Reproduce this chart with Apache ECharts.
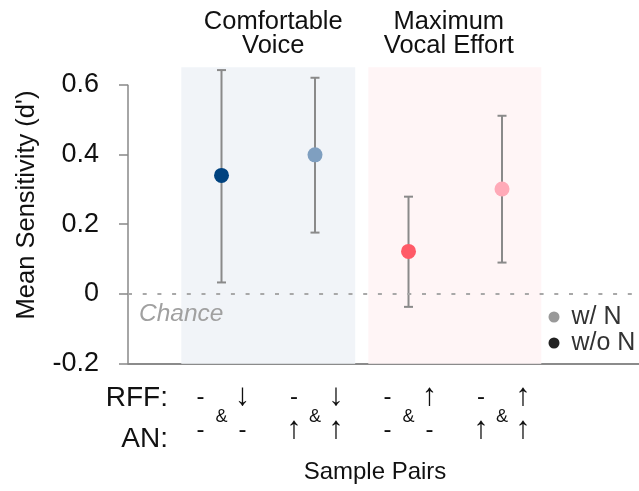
<!DOCTYPE html>
<html>
<head>
<meta charset="utf-8">
<script src="https://cdn.jsdelivr.net/npm/echarts@6/dist/echarts.min.js"></script>
<style>html,body{margin:0;padding:0;background:#fff}#c{width:639px;height:491px}</style>
</head>
<body>
<div id="c"></div>
<script>
// ---- data ----
const pairPos = [1, 2, 3, 4];
const rffLabels = [['-', '↓'], ['-', '↓'], ['-', '↑'], ['-', '↑']];
const anLabels = [['-', '-'], ['↑', '↑'], ['-', '-'], ['↑', '↑']];
const means = [0.340, 0.399, 0.122, 0.301];
const upper = [0.642, 0.620, 0.279, 0.511];
const lower = [0.033, 0.176, -0.037, 0.090];
const pointColors = ['#00427f', '#7f9fc0', '#ff5a67', '#ffaab8'];
const conditions = ['Comfortable\nVoice', 'Maximum\nVocal Effort'];
const conditionSpans = [[0.57, 2.43], [2.57, 4.42]];
const conditionColors = ['#f1f4f8', '#fff5f6'];
const yTicks = [-0.2, 0, 0.2, 0.4, 0.6];
const legendNames = ['w/ N', 'w/o N'];
const legendColors = ['#999999', '#222222'];

const FONT = '"Liberation Sans", Arial, sans-serif';
const chart = echarts.init(document.getElementById('c'));

const errData = pairPos.map((x, i) => [x, lower[i], upper[i]]);
const ptData = pairPos.map((x, i) => ({ value: [x, means[i]], itemStyle: { color: pointColors[i], opacity: 1 } }));

function tok(ch) { return (ch === '-' ? '{s|' : '{r|') + ch + '}'; }

const richLab = {
  s: { width: 16, align: 'center', fontSize: 24, lineHeight: 20.5, fontFamily: FONT, color: '#111' },
  r: { width: 16, align: 'center', fontSize: 31, lineHeight: 20.5, fontFamily: FONT, color: '#111' },
  g: { width: 26, align: 'center', fontSize: 24, lineHeight: 20.5, fontFamily: FONT },
  a: { fontSize: 18, lineHeight: 12.5, padding: [8, 0, 0, 0], fontFamily: FONT, color: '#111' }
};

const option = {
  animation: false,
  grid: { left: 128, right: 0, top: 67.3, bottom: 127.3 },
  xAxis: {
    type: 'value', min: 0, max: 5.465,
    axisLine: { show: true, onZero: false, lineStyle: { color: '#666', width: 1.5 } },
    axisTick: { show: false },
    splitLine: { show: false },
    axisLabel: {
      customValues: pairPos, margin: 23, fontFamily: FONT,
      formatter: function (v) {
        const i = pairPos.indexOf(v);
        if (i < 0) return '';
        return tok(rffLabels[i][0]) + '{g| }' + tok(rffLabels[i][1]) + '\n{a|&}\n' + tok(anLabels[i][0]) + '{g| }' + tok(anLabels[i][1]);
      },
      rich: richLab
    },
    name: 'Sample Pairs', nameLocation: 'middle', nameGap: 97,
    nameTextStyle: { fontSize: 24, fontFamily: FONT, color: '#111', padding: [0, 17, 0, 0] }
  },
  yAxis: {
    type: 'value', min: -0.2, max: 0.65,
    axisLine: { show: false },
    axisTick: { show: true, inside: false, length: 9, customValues: yTicks, lineStyle: { color: '#888', width: 1.5 } },
    axisLabel: { customValues: yTicks, margin: 29, fontSize: 27, fontFamily: FONT, color: '#111',
      formatter: v => (Math.abs(v) < 1e-9 ? '0' : v.toFixed(1)) },
    splitLine: { show: false }
  },
  legend: {
    orient: 'vertical', left: 548.5, top: 304.5, padding: 0, itemWidth: 11, itemHeight: 11, itemGap: 1,
    icon: 'circle',
    textStyle: { fontSize: 25, fontFamily: FONT, color: '#333', padding: [0, 0, 0, 7] },
    data: legendNames
  },
  graphic: [
    { type: 'text', x: 27, y: 205, rotation: Math.PI / 2, z: 100,
      style: { text: "Mean Sensitivity (d')", fontSize: 25.5, fontFamily: FONT, fill: '#111', align: 'center', verticalAlign: 'middle' } },
    { type: 'text', x: 168, y: 398, z: 100, style: { text: 'RFF:', fontSize: 28, fontFamily: FONT, fill: '#111', align: 'right', verticalAlign: 'middle' } },
    { type: 'text', x: 168, y: 439, z: 100, style: { text: 'AN:', fontSize: 28, fontFamily: FONT, fill: '#111', align: 'right', verticalAlign: 'middle' } },
    { type: 'text', x: 139, y: 314, z: 100, style: { text: 'Chance', fontSize: 24.5, fontStyle: 'italic', fontFamily: FONT, fill: '#a0a0a0', align: 'left', verticalAlign: 'middle' } }
  ],
  series: [
    {
      type: 'line', name: 'shade', silent: true, data: [], z: 0,
      markArea: {
        silent: true,
        data: conditionSpans.map((s, i) => [
          { xAxis: s[0], itemStyle: { color: conditionColors[i], opacity: 1 },
            label: { show: true, position: 'top', distance: 10, offset: [i === 0 ? 5 : -6, 1], formatter: conditions[i],
              fontSize: 25.5, lineHeight: 24.5, fontFamily: FONT, color: '#111', align: 'center' } },
          { xAxis: s[1] }
        ])
      }
    },
    {
      type: 'line', name: 'axisY', silent: true, clip: false, symbol: 'none', z: 3,
      data: [[0, yTicks[0]], [0, yTicks[yTicks.length - 1]]],
      lineStyle: { color: '#888', width: 1.5 }
    },
    {
      type: 'custom', name: 'err', silent: true, z: 4,
      data: errData,
      renderItem: function (params, api) {
        const x = api.value(0);
        const lo = api.coord([x, api.value(1)]);
        const hi = api.coord([x, api.value(2)]);
        const w = 4.5;
        const st = { stroke: '#8a8a8a', lineWidth: 2 };
        return { type: 'group', children: [
          { type: 'line', shape: { x1: lo[0], y1: lo[1], x2: hi[0], y2: hi[1] }, style: st },
          { type: 'line', shape: { x1: lo[0] - w, y1: lo[1], x2: lo[0] + w, y2: lo[1] }, style: st },
          { type: 'line', shape: { x1: hi[0] - w, y1: hi[1], x2: hi[0] + w, y2: hi[1] }, style: st }
        ] };
      }
    },
    {
      type: 'scatter', name: 'means', symbolSize: 15, z: 5, data: ptData,
      markLine: {
        silent: true, symbol: 'none', label: { show: false },
        lineStyle: { color: '#a8a8a8', width: 2, type: [4, 10.7] },
        data: [{ yAxis: 0 }]
      }
    },
    { type: 'scatter', name: legendNames[0], data: [], itemStyle: { color: legendColors[0], opacity: 1 } },
    { type: 'scatter', name: legendNames[1], data: [], itemStyle: { color: legendColors[1], opacity: 1 } }
  ]
};
chart.setOption(option);
</script>
</body>
</html>
